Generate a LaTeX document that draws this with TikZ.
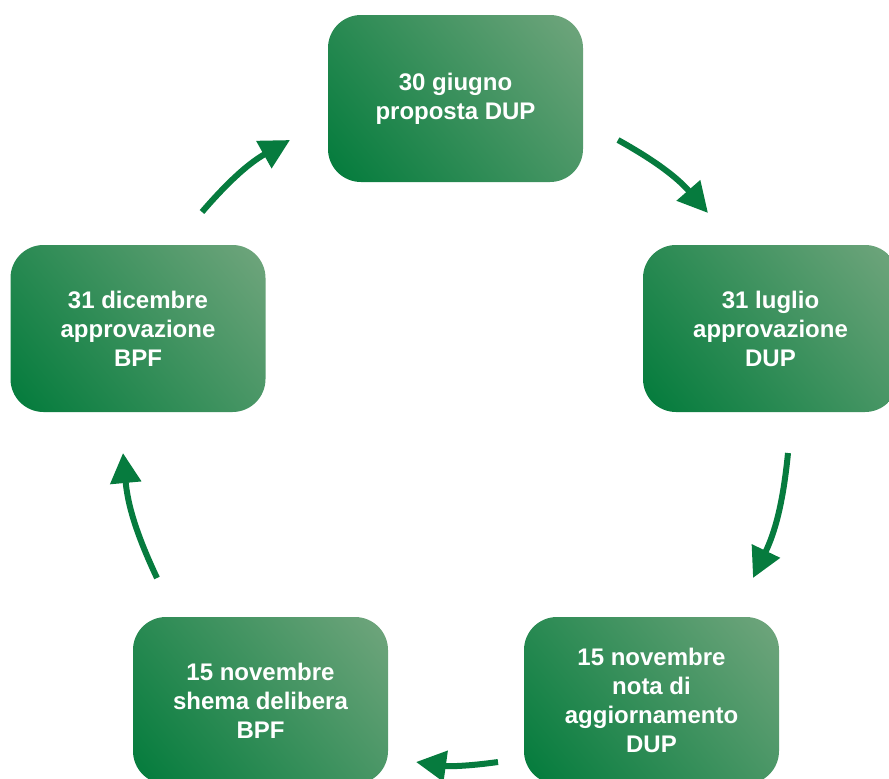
\documentclass[tikz,border=0pt]{standalone}
\usepackage{fontspec}
\setmainfont{Liberation Sans}
\usetikzlibrary{arrows.meta}
\definecolor{greendark}{RGB}{0,122,58}
\definecolor{greenlight}{RGB}{114,166,126}
\definecolor{arrowgreen}{RGB}{6,123,62}
% soft linear fade used for the stage boxes
\pgfdeclareverticalshading{boxfade}{100bp}{color(0bp)=(greendark); color(14bp)=(greendark); color(86bp)=(greenlight); color(100bp)=(greenlight)}
\tikzset{
  stagebox/.style={rectangle, rounded corners=33pt, minimum width=255pt, minimum height=167pt,
    inner sep=0pt, align=center, text=white,
    font=\fontsize{24}{29}\selectfont\bfseries,
    shading=boxfade, shading angle=-50},
  cyclearrow/.style={draw=arrowgreen, line width=6pt,
    -{Triangle[length=30pt,width=30pt]}}
}
\begin{document}
\begin{tikzpicture}[x=1pt,y=-1pt]
\useasboundingbox (0,0) rectangle (889,779);
\node[stagebox] (giu) at (455.5,98.5) {30 giugno\\proposta DUP};
\node[stagebox] (lug) at (770.5,328.5) {31 luglio\\approvazione\\DUP};
\node[stagebox] (novdup) at (651.5,700.5) {15 novembre\\nota di\\aggiornamento\\DUP};
\node[stagebox] (novbpf) at (260.5,700.5) {15 novembre\\shema delibera\\BPF};
\node[stagebox] (dic) at (138,328.5) {31 dicembre\\approvazione\\BPF};

\coordinate (a1s) at (618,140);  \coordinate (a1e) at (708,213);
\coordinate (a2s) at (788,453);  \coordinate (a2e) at (753,578);
\coordinate (a3s) at (498,762);  \coordinate (a3e) at (416,762);
\coordinate (a4s) at (157,578);  \coordinate (a4e) at (123,453);
\coordinate (a5s) at (202,212);  \coordinate (a5e) at (290,140);

\draw[cyclearrow] (a1s) to[bend left=10] (a1e);
\draw[cyclearrow] (a2s) to[bend left=10] (a2e);
\draw[cyclearrow] (a3s) to[bend left=8] (a3e);
\draw[cyclearrow] (a4s) to[bend left=10] (a4e);
\draw[cyclearrow] (a5s) to[bend left=10] (a5e);
\end{tikzpicture}
\end{document}
